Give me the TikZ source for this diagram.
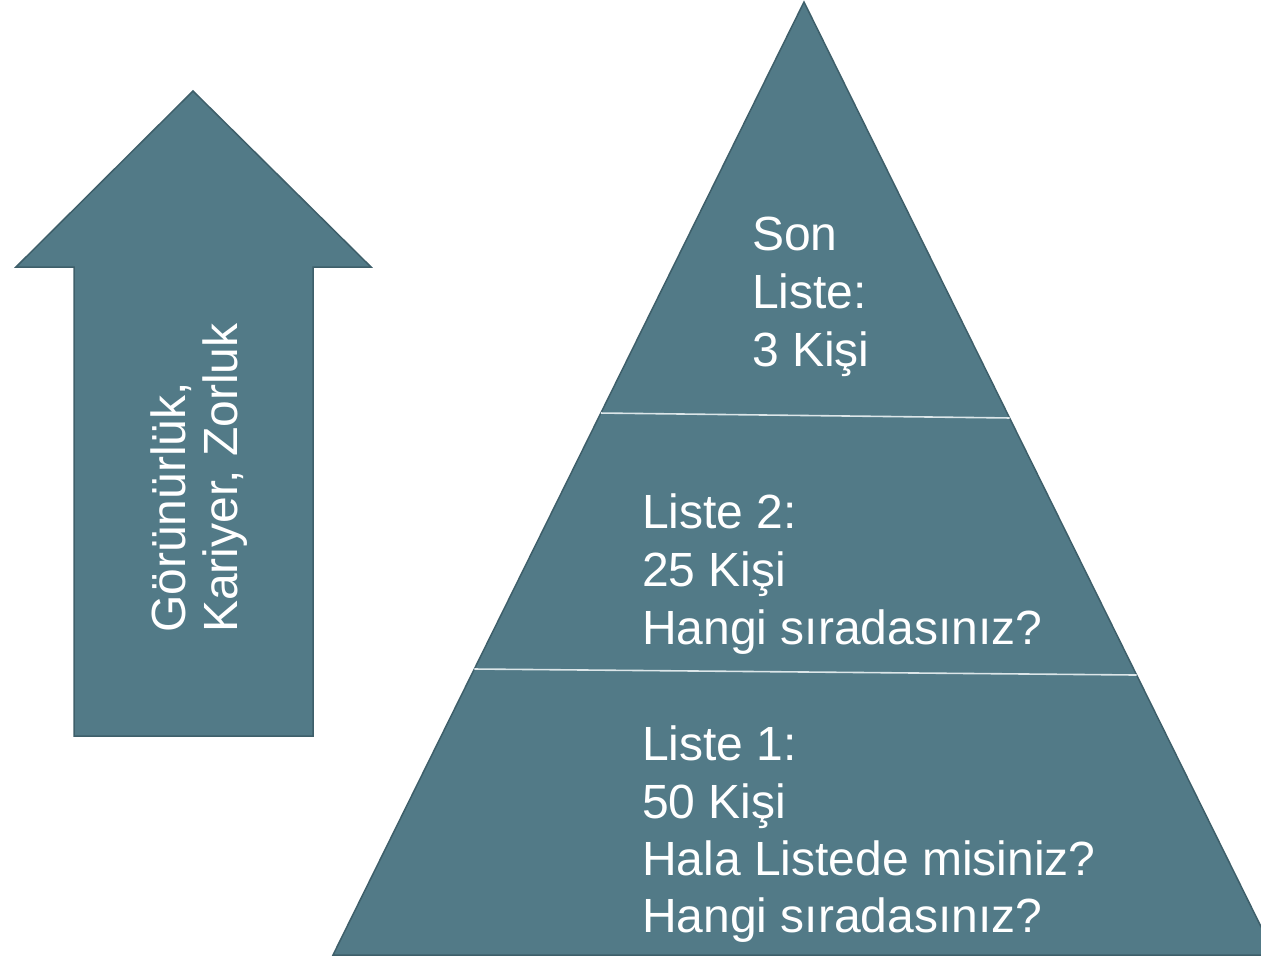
\documentclass[tikz,border=0pt]{standalone}
\usepackage{fontspec}
\setmainfont{Liberation Sans}
\usetikzlibrary{calc}
\definecolor{tealfill}{RGB}{82,122,135}
\definecolor{tealedge}{RGB}{62,95,106}
\definecolor{seprule}{RGB}{220,230,233}
\tikzset{
  shapefill/.style={fill=tealfill, draw=tealedge, line width=1.5pt, line join=miter},
  sepline/.style={draw=seprule, line width=1.6pt},
  txt/.style={text=white, inner sep=0pt, anchor=base west, font=\fontsize{48}{57}\selectfont},
  rtxt/.style={txt, rotate=90},
}
\begin{document}
\begin{tikzpicture}[x=1pt,y=-1pt]
\useasboundingbox (0,0) rectangle (1261,958);
\clip (0,0) rectangle (1261,958);
% arrow
\draw[shapefill] (193,91) -- (371,267) -- (313,267) -- (313,736) -- (74,736) -- (74,267) -- (16,267) -- cycle;
\node[rtxt] (g1) at (185,633) {Görünürlük,};
\node[rtxt] (g2) at (237,633) {Kariyer, Zorluk};
% pyramid
\coordinate (apex) at (804,2);
\coordinate (bl) at (333,955);
\coordinate (br) at (1275,955);
\draw[shapefill] (apex) -- (br) -- (bl) -- cycle;
\coordinate (s1l) at ($(apex)!0.4313!(bl)$);
\coordinate (s1r) at ($(apex)!0.4365!(br)$);
\coordinate (s2l) at ($(apex)!0.6999!(bl)$);
\coordinate (s2r) at ($(apex)!0.7062!(br)$);
\draw[sepline] (s1l) -- (s1r);
\draw[sepline] (s2l) -- (s2r);
% texts
\node[txt] (t1) at (752,250) {Son};
\node[txt] (t2) at (752,308) {Liste:};
\node[txt] (t3) at (752,366) {3 Kişi};
\node[txt] (m1) at (642,528) {Liste 2:};
\node[txt] (m2) at (642,586) {25 Kişi};
\node[txt] (m3) at (642,644) {Hangi sıradasınız?};
\node[txt] (b1) at (642,760) {Liste 1:};
\node[txt] (b2) at (642,818) {50 Kişi};
\node[txt] (b3) at (642,875) {Hala Listede misiniz?};
\node[txt] (b4) at (642,932) {Hangi sıradasınız?};
\end{tikzpicture}
\end{document}
